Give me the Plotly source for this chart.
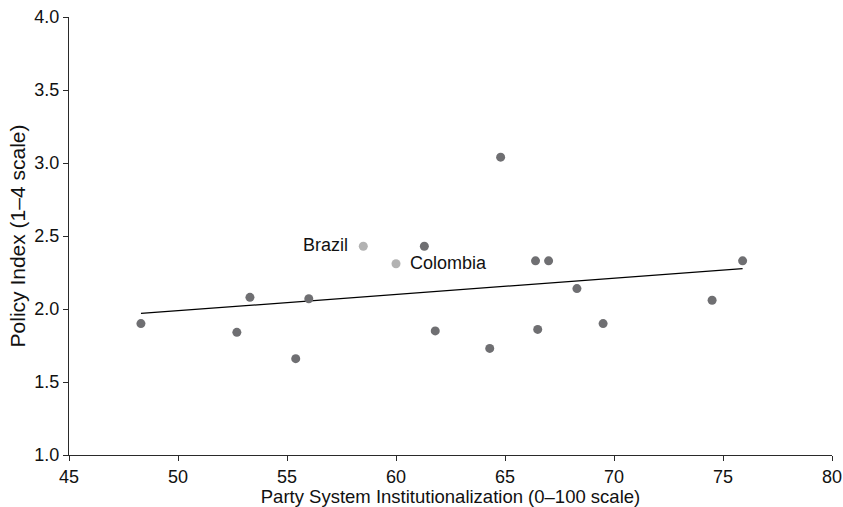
import numpy as np
import plotly.graph_objects as go

# Party system institutionalization vs. policy index, one point per country
psi = [48.3, 52.7, 53.3, 55.4, 56.0, 61.3, 61.8, 64.3, 64.8,
       66.4, 66.5, 67.0, 68.3, 69.5, 74.5, 75.9]
policy = [1.90, 1.84, 2.08, 1.66, 2.07, 2.43, 1.85, 1.73, 3.04,
          2.33, 1.86, 2.33, 2.14, 1.90, 2.06, 2.33]

# Highlighted cases
hl_names = ["Brazil", "Colombia"]
hl_psi = [58.5, 60.0]
hl_policy = [2.43, 2.31]
hl_side = ["left", "right"]

x_ticks = [45, 50, 55, 60, 65, 70, 75, 80]
y_ticks = [1.0, 1.5, 2.0, 2.5, 3.0, 3.5, 4.0]

FONT = "Liberation Sans, Arial, Helvetica, sans-serif"

# OLS fit over all cases
all_x = np.array(psi + hl_psi)
all_y = np.array(policy + hl_policy)
slope, intercept = np.polyfit(all_x, all_y, 1)
fit_x = np.array([all_x.min(), all_x.max()])
fit_y = slope * fit_x + intercept

fig = go.Figure()
fig.add_trace(go.Scatter(
    x=fit_x, y=fit_y, mode="lines",
    line=dict(color="black", width=1.2), hoverinfo="skip"))
fig.add_trace(go.Scatter(
    x=psi, y=policy, mode="markers",
    marker=dict(color="#6f6f72", size=9)))
fig.add_trace(go.Scatter(
    x=hl_psi, y=hl_policy, mode="markers",
    marker=dict(color="#b2b2b2", size=9)))

# Country labels beside the highlighted points
for name, xv, yv, side in zip(hl_names, hl_psi, hl_policy, hl_side):
    fig.add_annotation(
        x=xv, y=yv, text=name, showarrow=False,
        xanchor="right" if side == "left" else "left",
        xshift=-13 if side == "left" else 12, yshift=1,
        font=dict(family=FONT, size=18, color="#111"))

axis_common = dict(
    showline=True, linecolor="#2a2a2a", linewidth=1.3,
    ticks="outside", ticklen=5, tickwidth=1.3, tickcolor="#2a2a2a",
    showgrid=False, zeroline=False,
    tickfont=dict(family=FONT, size=18, color="#111"),
)

fig.update_layout(
    width=843, height=507,
    margin=dict(l=69, r=11, t=17, b=52),
    paper_bgcolor="white", plot_bgcolor="white",
    showlegend=False,
    xaxis=dict(range=[45, 80], tickvals=x_ticks, automargin=False,
               title=dict(text="Party System Institutionalization (0\u2013100 scale)",
                          standoff=0,
                          font=dict(family=FONT, size=18.5, color="#111")),
               **axis_common),
    yaxis=dict(range=[1.0, 4.0], tickvals=y_ticks, tickformat=".1f", automargin=False,
               title=dict(text="Policy Index (1\u20134 scale)", standoff=2,
                          font=dict(family=FONT, size=21, color="#111")),
               **axis_common),
)

fig.write_html("out.html")
